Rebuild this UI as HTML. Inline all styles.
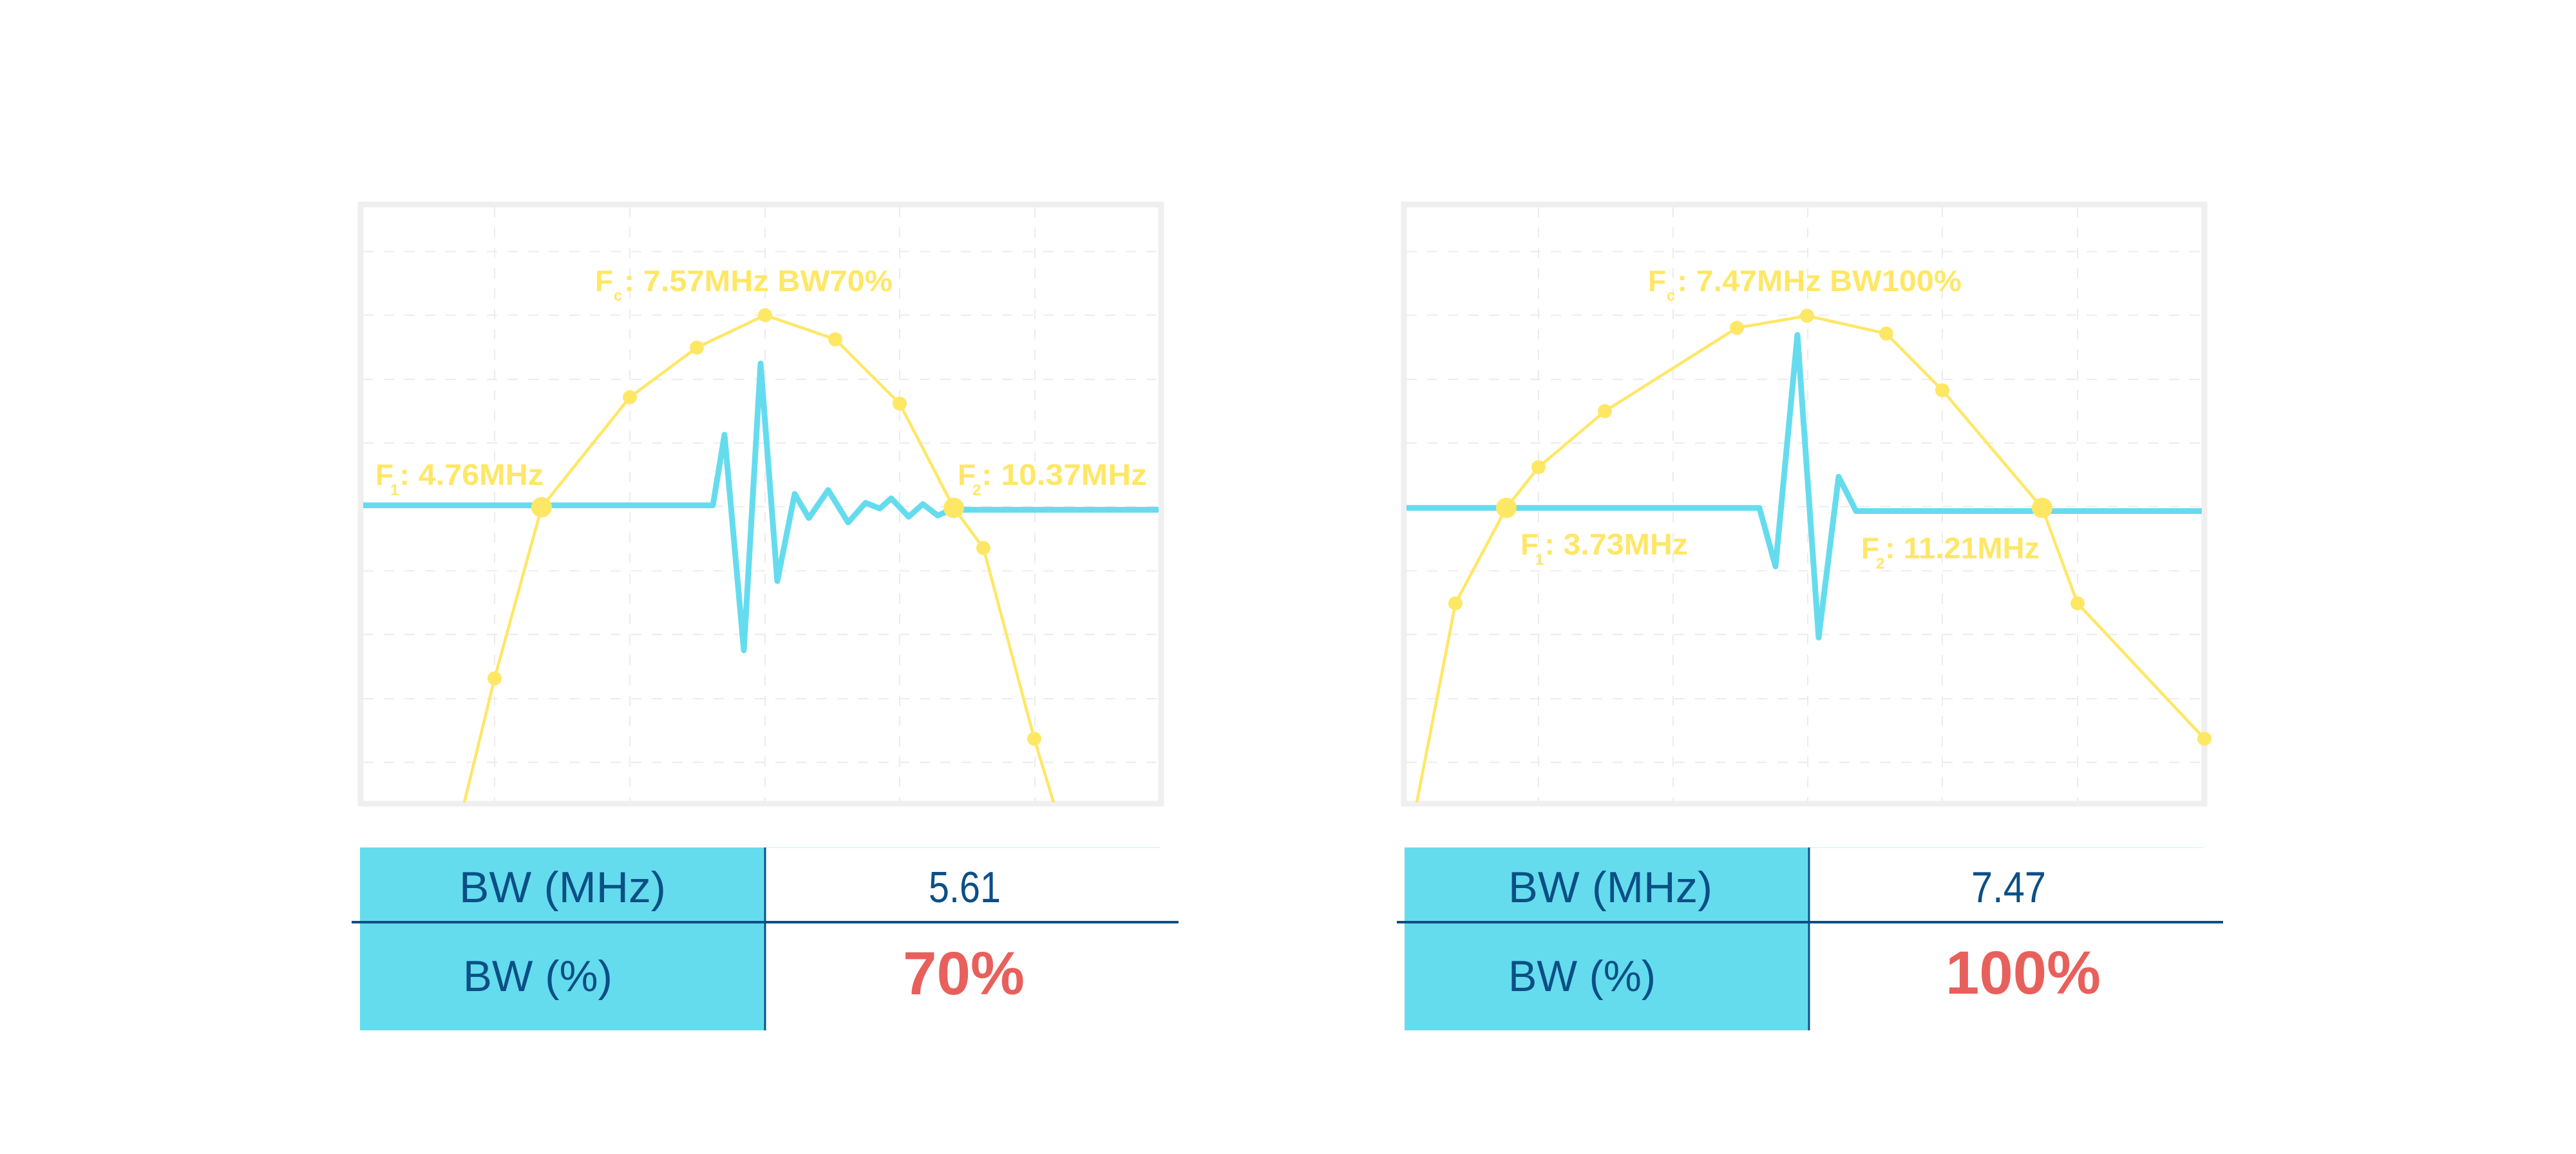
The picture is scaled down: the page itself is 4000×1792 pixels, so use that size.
<!DOCTYPE html>
<html><head><meta charset="utf-8"><style>
html,body{margin:0;padding:0;background:#fff;}
svg{display:block;}
text{font-family:"Liberation Sans",sans-serif;}
</style></head><body>
<svg width="4000" height="1792" viewBox="0 0 4000 1792" xmlns="http://www.w3.org/2000/svg">
<rect width="4000" height="1792" fill="#fff"/>
<g transform="matrix(1,0,0,0.9877,0,3.44)">
  <!-- LEFT CHART -->
  <g stroke="#ececec" stroke-width="2" stroke-dasharray="16,16" fill="none">
    <line x1="768" y1="322" x2="768" y2="1260"/><line x1="978" y1="322" x2="978" y2="1260"/>
    <line x1="1188" y1="322" x2="1188" y2="1260"/><line x1="1397" y1="322" x2="1397" y2="1260"/>
    <line x1="1607" y1="322" x2="1607" y2="1260"/>
    <line x1="564" y1="392" x2="1800" y2="392"/><line x1="564" y1="492" x2="1800" y2="492"/>
    <line x1="564" y1="593" x2="1800" y2="593"/><line x1="564" y1="693" x2="1800" y2="693"/>
    <line x1="564" y1="793" x2="1800" y2="793"/><line x1="564" y1="894" x2="1800" y2="894"/>
    <line x1="564" y1="994" x2="1800" y2="994"/><line x1="564" y1="1095" x2="1800" y2="1095"/>
    <line x1="564" y1="1195" x2="1800" y2="1195"/>
  </g>
  <rect x="560" y="318" width="1243" height="942" fill="none" stroke="#efefef" stroke-width="9"/>
  <polyline fill="none" stroke="#65DCEE" stroke-width="9" stroke-linejoin="round" points="564,791 1107,791 1125,680 1155,1019 1181,568 1207,910 1234,773 1256,811 1286,767 1317,818 1344,787 1366,796 1384,780 1411,809 1433,789 1456,807 1481,796 1496,798 1799,798"/>
  <polyline fill="none" stroke="#FFE766" stroke-width="4.6" points="721,1258 768,1063 841,794 978,621 1082,543 1188,492 1297,530 1397,631 1481,795 1527,858 1606,1158 1636,1258"/>
  <g fill="#FFE766">
    <circle cx="768" cy="1063" r="11"/><circle cx="978" cy="621" r="11"/><circle cx="1082" cy="543" r="11"/>
    <circle cx="1188" cy="492" r="11"/><circle cx="1297" cy="530" r="11"/><circle cx="1397" cy="631" r="11"/>
    <circle cx="1527" cy="858" r="11"/><circle cx="1606" cy="1158" r="11"/>
    <circle cx="841" cy="794" r="16"/><circle cx="1481" cy="795" r="16"/>
  </g>
  <!-- RIGHT CHART -->
  <g stroke="#ececec" stroke-width="2" stroke-dasharray="16,16" fill="none">
    <line x1="2389" y1="322" x2="2389" y2="1260"/><line x1="2598" y1="322" x2="2598" y2="1260"/>
    <line x1="2807" y1="322" x2="2807" y2="1260"/><line x1="3016" y1="322" x2="3016" y2="1260"/>
    <line x1="3226" y1="322" x2="3226" y2="1260"/>
    <line x1="2184" y1="392" x2="3419" y2="392"/><line x1="2184" y1="492" x2="3419" y2="492"/>
    <line x1="2184" y1="593" x2="3419" y2="593"/><line x1="2184" y1="693" x2="3419" y2="693"/>
    <line x1="2184" y1="793" x2="3419" y2="793"/><line x1="2184" y1="894" x2="3419" y2="894"/>
    <line x1="2184" y1="994" x2="3419" y2="994"/><line x1="2184" y1="1095" x2="3419" y2="1095"/>
    <line x1="2184" y1="1195" x2="3419" y2="1195"/>
  </g>
  <rect x="2180" y="318" width="1243" height="942" fill="none" stroke="#efefef" stroke-width="9"/>
  <polyline fill="none" stroke="#65DCEE" stroke-width="9" stroke-linejoin="round" points="2184,795 2732,795 2757,887 2791,523 2824,999 2855,746 2882,800 3419,800"/>
  <polyline fill="none" stroke="#FFE766" stroke-width="4.6" points="2200,1258 2260,945 2339,795 2389,731 2492,643 2697,512 2806,493 2929,521 3016,610 3171,795 3226,945 3423,1158"/>
  <g fill="#FFE766">
    <circle cx="2260" cy="945" r="11"/><circle cx="2389" cy="731" r="11"/><circle cx="2492" cy="643" r="11"/>
    <circle cx="2697" cy="512" r="11"/><circle cx="2806" cy="493" r="11"/><circle cx="2929" cy="521" r="11"/>
    <circle cx="3016" cy="610" r="11"/><circle cx="3226" cy="945" r="11"/><circle cx="3423" cy="1158" r="11"/>
    <circle cx="2339" cy="795" r="16"/><circle cx="3171" cy="795" r="16"/>
  </g>
</g>
<!-- labels -->
<g fill="#FFE766" font-weight="bold">
  <text x="924" y="452" font-size="46">F</text><text x="953" y="467" font-size="24">c</text>
  <text x="969" y="452" font-size="46" textLength="417" lengthAdjust="spacingAndGlyphs">: 7.57MHz BW70%</text>
  <text x="583" y="753" font-size="46">F</text><text x="606" y="769" font-size="24">1</text>
  <text x="620" y="753" font-size="46" textLength="224" lengthAdjust="spacingAndGlyphs">: 4.76MHz</text>
  <text x="1487" y="753" font-size="46">F</text><text x="1510" y="769" font-size="24">2</text>
  <text x="1524" y="753" font-size="46" textLength="257" lengthAdjust="spacingAndGlyphs">: 10.37MHz</text>
  <text x="2559" y="452" font-size="46">F</text><text x="2588" y="467" font-size="24">c</text>
  <text x="2604" y="452" font-size="46" textLength="442" lengthAdjust="spacingAndGlyphs">: 7.47MHz BW100%</text>
  <text x="2361" y="861" font-size="46">F</text><text x="2384" y="877" font-size="24">1</text>
  <text x="2398" y="861" font-size="46" textLength="223" lengthAdjust="spacingAndGlyphs">: 3.73MHz</text>
  <text x="2890" y="867" font-size="46">F</text><text x="2913" y="883" font-size="24">2</text>
  <text x="2927" y="867" font-size="46" textLength="240" lengthAdjust="spacingAndGlyphs">: 11.21MHz</text>
</g>
<!-- TABLES -->
<rect x="559" y="1316" width="629" height="284" fill="#64DCEE"/>
<line x1="1188" y1="1316" x2="1802" y2="1316" stroke="#e3f7fb" stroke-width="2"/>
<line x1="1188" y1="1316" x2="1188" y2="1600" stroke="#0B4F85" stroke-width="3"/>
<line x1="546" y1="1432" x2="1830" y2="1432" stroke="#0B4F85" stroke-width="4"/>
<rect x="2181" y="1316" width="628" height="284" fill="#64DCEE"/>
<line x1="2809" y1="1316" x2="3423" y2="1316" stroke="#e3f7fb" stroke-width="2"/>
<line x1="2809" y1="1316" x2="2809" y2="1600" stroke="#0B4F85" stroke-width="3"/>
<line x1="2169" y1="1432" x2="3452" y2="1432" stroke="#0B4F85" stroke-width="4"/>
<g fill="#0B4F85" font-size="68">
  <text x="713" y="1401" textLength="321" lengthAdjust="spacingAndGlyphs">BW (MHz)</text>
  <text x="719" y="1539" textLength="232" lengthAdjust="spacingAndGlyphs">BW (%)</text>
  <text x="1442" y="1401" textLength="112" lengthAdjust="spacingAndGlyphs">5.61</text>
  <text x="2342" y="1401" textLength="317" lengthAdjust="spacingAndGlyphs">BW (MHz)</text>
  <text x="2342" y="1539" textLength="229" lengthAdjust="spacingAndGlyphs">BW (%)</text>
  <text x="3061" y="1401" textLength="116" lengthAdjust="spacingAndGlyphs">7.47</text>
</g>
<g fill="#E8605C" font-weight="bold" font-size="95">
  <text x="1402" y="1544" textLength="189" lengthAdjust="spacingAndGlyphs">70%</text>
  <text x="3021" y="1543" textLength="241" lengthAdjust="spacingAndGlyphs">100%</text>
</g>
</svg>
</body></html>
